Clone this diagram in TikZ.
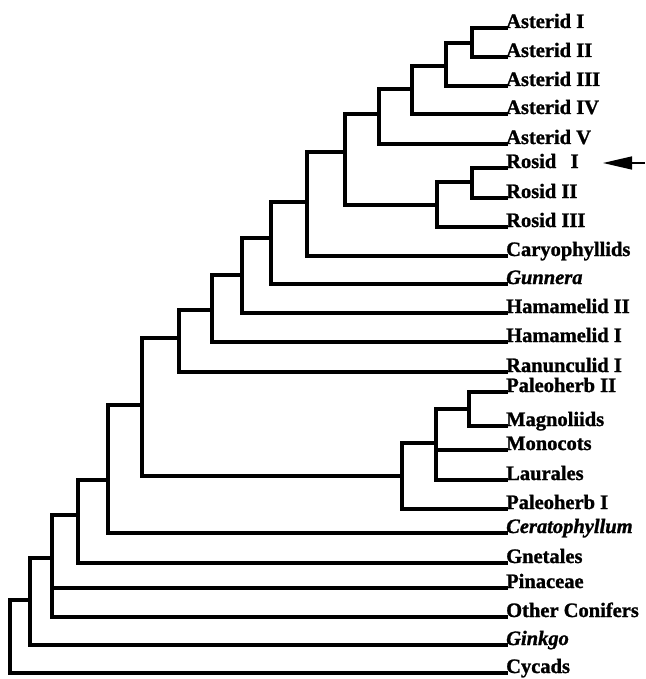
\documentclass[tikz,border=0pt]{standalone}
\usepackage{fontspec}
\setmainfont{Liberation Serif}[BoldFeatures={FakeBold=1.2},BoldItalicFeatures={FakeBold=1.2}]
\usetikzlibrary{arrows.meta}
\begin{document}
\begin{tikzpicture}[x=1pt,y=-1pt,
  branch/.style={line width=3.2pt, line cap=rect},
  taxon/.style={anchor=base west, inner sep=0pt, font=\fontsize{20.5}{24}\selectfont\bfseries},
  itaxon/.style={taxon, font=\fontsize{20.5}{24}\selectfont\bfseries\itshape},
  pointer/.style={line width=1.4pt, -{Triangle[length=29pt,width=13pt]}}]
\useasboundingbox (0,0) rectangle (645,679);
% leaves
\node[taxon]  (a1) at (506,28)  {Asterid I};
\node[taxon]  (a2) at (506,57)  {Asterid II};
\node[taxon]  (a3) at (506,86)  {Asterid III};
\node[taxon]  (a4) at (506,114) {Asterid IV};
\node[taxon]  (a5) at (506,144) {Asterid V};
\node[taxon]  (r1) at (506,168) {Rosid\hspace{0.7em}I};
\node[taxon]  (r2) at (506,198) {Rosid II};
\node[taxon]  (r3) at (506,227) {Rosid III};
\node[taxon]  (car) at (506,256) {Caryophyllids};
\node[itaxon] (gun) at (506,284) {Gunnera};
\node[taxon]  (h2) at (506,313) {Hamamelid II};
\node[taxon]  (h1) at (506,342) {Hamamelid I};
\node[taxon]  (ran) at (506,372) {Ranunculid I};
\node[taxon]  (p2) at (506,392) {Paleoherb II};
\node[taxon]  (mag) at (506,426) {Magnoliids};
\node[taxon]  (mon) at (506,450) {Monocots};
\node[taxon]  (lau) at (506,480) {Laurales};
\node[taxon]  (p1) at (506,509) {Paleoherb I};
\node[itaxon] (cer) at (506,533) {Ceratophyllum};
\node[taxon]  (gne) at (506,563) {Gnetales};
\node[taxon]  (pin) at (506,588) {Pinaceae};
\node[taxon]  (oc) at (506,617) {Other Conifers};
\node[itaxon] (gin) at (506,645) {Ginkgo};
\node[taxon]  (cyc) at (506,673) {Cycads};
% internal nodes (x of vertical bar, y where it meets its parent)
\coordinate (nA12) at (472,43);
\coordinate (nA123) at (446,66);
\coordinate (nA1234) at (412,89);
\coordinate (nAst) at (379,114);
\coordinate (nR12) at (472,182);
\coordinate (nR) at (437,205);
\coordinate (nAR) at (345,152);
\coordinate (nC) at (307,202);
\coordinate (nG) at (271,238);
\coordinate (nH2) at (242,275);
\coordinate (nH1) at (212,310);
\coordinate (nRa) at (179,338);
\coordinate (nPM) at (469,409);
\coordinate (nPML) at (436,443);
\coordinate (nP) at (402,476);
\coordinate (nE) at (142,405);
\coordinate (nCe) at (108,480);
\coordinate (nGn) at (78,515);
\coordinate (nCon) at (52,558);
\coordinate (nGi) at (30,600);
\coordinate (nCy) at (10,600);
% branches
\draw[branch] (nA12) |- (a1.base west);
\draw[branch] (nA12) |- (a2.base west);
\draw[branch] (nA123) |- (nA12);
\draw[branch] (nA123) |- (a3.base west);
\draw[branch] (nA1234) |- (nA123);
\draw[branch] (nA1234) |- (a4.base west);
\draw[branch] (nAst) |- (nA1234);
\draw[branch] (nAst) |- (a5.base west);
\draw[branch] (nR12) |- (r1.base west);
\draw[branch] (nR12) |- (r2.base west);
\draw[branch] (nR) |- (nR12);
\draw[branch] (nR) |- (r3.base west);
\draw[branch] (nAR) |- (nAst);
\draw[branch] (nAR) |- (nR);
\draw[branch] (nC) |- (nAR);
\draw[branch] (nC) |- (car.base west);
\draw[branch] (nG) |- (nC);
\draw[branch] (nG) |- (gun.base west);
\draw[branch] (nH2) |- (nG);
\draw[branch] (nH2) |- (h2.base west);
\draw[branch] (nH1) |- (nH2);
\draw[branch] (nH1) |- (h1.base west);
\draw[branch] (nRa) |- (nH1);
\draw[branch] (nRa) |- (ran.base west);
\draw[branch] (nPM) |- (p2.base west);
\draw[branch] (nPM) |- (mag.base west);
\draw[branch] (nPML) |- (nPM);
\draw[branch] (nPML) |- (mon.base west);
\draw[branch] (nPML) |- (lau.base west);
\draw[branch] (nP) |- (nPML);
\draw[branch] (nP) |- (p1.base west);
\draw[branch] (nE) |- (nRa);
\draw[branch] (nE) |- (nP);
\draw[branch] (nCe) |- (nE);
\draw[branch] (nCe) |- (cer.base west);
\draw[branch] (nGn) |- (nCe);
\draw[branch] (nGn) |- (gne.base west);
\draw[branch] (nCon) |- (nGn);
\draw[branch] (nCon) |- (pin.base west);
\draw[branch] (nCon) |- (oc.base west);
\draw[branch] (nGi) |- (nCon);
\draw[branch] (nGi) |- (gin.base west);
\draw[branch] (nCy) |- (nGi);
\draw[branch] (nCy) |- (cyc.base west);
% arrow
\coordinate (arrtail) at (645,163);
\coordinate (arrtip) at (603,163);
\draw[pointer] (arrtail) -- (arrtip);
\end{tikzpicture}
\end{document}
